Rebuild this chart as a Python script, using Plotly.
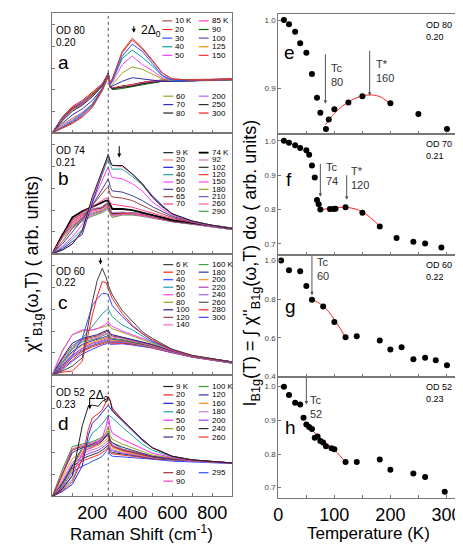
import plotly.graph_objects as go

# ---------------- spectra, left panels (arb. units, 0-100 of panel height) ----------------
W_a = [0, 50, 100, 150, 200, 250, 270, 280, 290, 300, 350, 400, 450, 500, 550, 600, 700, 800, 900]
T_a = [10, 20, 30, 40, 50, 60, 70, 80, 85, 90, 100, 125, 150, 200, 250, 300]
C_a = ["#b04a4a", "#ff2020", "#3050ff", "#00a0a0", "#ff40ff", "#a0a020", "#3030b0", "#202020",
       "#ff40c0", "#007000", "#5050c0", "#ff8c00", "#ff3030", "#b060ff", "#303030", "#ff2020"]
S_a = [
    [0, 3.6, 7.7, 13, 21, 35, 43, 48, 42, 45, 68, 79, 71, 61, 50, 45, 44, 44, 45],
    [0, 4, 8.5, 14, 22, 36, 43, 48, 42, 45, 67, 77.5, 70, 60, 50, 45, 44, 44, 44.5],
    [0, 4.5, 9, 15, 23, 36, 43, 48, 41, 44, 64, 74, 68, 58, 48, 44, 43.5, 44, 44.5],
    [0, 5, 10, 16, 24, 37, 44, 49, 41, 43, 62, 69, 63, 56, 47.5, 44, 43.5, 44, 44.5],
    [0, 6, 11, 17, 24, 37, 44, 49, 40, 42, 57, 64, 57, 52, 46, 44, 43.5, 44, 44.5],
    [0, 7, 12, 17, 23, 35, 43, 48, 39, 40, 50, 55, 53, 49, 45, 43.5, 43.5, 44, 44.5],
    [0, 8, 15, 20, 27, 37, 44, 49, 38, 39, 43, 46, 45, 44, 43, 43, 43.5, 44, 44.5],
    [0, 10, 18, 23, 30, 39, 45, 50, 38, 37, 38, 39, 41, 42, 43, 43, 43.5, 44, 44.5],
    [0, 11, 19, 24, 31, 39, 45, 50, 38, 37, 38, 39.5, 41, 42.5, 43, 43.5, 43.5, 44, 44.5],
    [0, 11, 20, 24, 32, 39, 45, 49, 38, 36, 37, 38.5, 40.5, 42, 43, 43, 43.5, 43.5, 44],
    [0, 12, 20, 25, 32, 40, 45, 49, 38, 36.5, 38, 39, 41, 42.5, 43, 43.5, 43.5, 44, 44.5],
    [0, 12, 20, 25, 33, 40, 45, 49, 38, 37, 38.5, 39.5, 41, 42.5, 43.5, 43.5, 44, 44, 44.5],
    [0, 12, 21, 25, 33, 40, 46, 50, 39, 37, 38.5, 39.5, 41.5, 43, 43.5, 44, 44, 44.5, 45],
    [0, 12, 21, 26, 33, 40, 46, 49, 38, 37, 38.5, 40, 41.5, 43, 43.5, 44, 44, 44.5, 45],
    [0, 13, 21, 26, 33, 40, 46, 49, 38, 37, 39, 40, 42, 43, 44, 44, 44, 44.5, 45],
    [0, 13, 22, 27, 34, 41, 47, 50, 39, 37.5, 39, 40.5, 42, 43.5, 44, 44.5, 44.5, 45, 45],
]

W_b = [0, 50, 100, 150, 200, 250, 270, 280, 290, 300, 350, 400, 450, 500, 550, 600, 700, 800, 900]
T_b = [9, 20, 30, 40, 50, 60, 65, 70, 74, 92, 102, 120, 150, 180, 210, 260, 290]
C_b = ["#202020", "#ff8080", "#2020e0", "#20a0a0", "#ff40ff", "#404090", "#a04040", "#ff4080",
       "#000000", "#c080c0", "#303030", "#ff3030", "#ff40ff", "#a0a020", "#6060c0", "#ff60a0", "#40a040"]
S_b = [
    [0, 3, 8, 19, 47, 69, 78, 82, 76, 73, 73, 66, 58, 47, 39, 33, 27, 23.5, 21],
    [0, 3, 8, 18, 45, 68, 77, 81, 75, 73, 72, 66, 58, 47, 39, 33, 27, 23.5, 21],
    [0, 4, 10, 16, 42, 67, 77, 82, 76, 73, 73, 66, 58, 48, 40, 33, 27, 23.5, 21],
    [0, 5, 12, 20, 44, 66, 75, 78.5, 73, 70, 70, 64, 57, 47, 39, 33, 27, 23.5, 21],
    [0, 6, 14, 24, 42, 60, 68, 72, 66, 63, 62, 58, 52, 43, 37, 32, 26.5, 23, 21],
    [0, 8, 18, 28, 40, 53, 59, 62, 55, 52, 51, 48, 44, 39, 35, 31, 26.5, 23, 21],
    [0, 10, 21, 30, 40, 50, 54, 55, 49, 47, 46, 44, 40, 36, 33, 30, 26, 23, 21],
    [0, 14, 28, 34, 39, 44, 46, 45.5, 42, 41, 40, 38.5, 36, 33.6, 31, 29, 26, 23, 21],
    [0, 15, 30, 35, 38.5, 42, 44, 44, 40, 37, 37, 36, 34, 32, 30, 28, 25.5, 23, 21],
    [0, 15, 27, 33, 37, 39, 42, 43, 37, 34, 34.5, 34, 33, 31, 29.5, 27.5, 25, 23, 21],
    [0, 16, 28, 33, 37, 38, 41, 42, 36, 33, 34, 34, 33, 31, 29, 27, 25, 23, 21],
    [0, 16, 26, 32, 36, 38, 40, 41, 35, 33, 33.5, 33.5, 32.5, 30.5, 29, 27, 25, 22.5, 20.5],
    [0, 16, 25, 31, 35, 37, 40, 41, 35, 32.5, 33, 33, 32, 30, 28.5, 27, 25, 22.5, 20.5],
    [0, 16, 24, 30, 34, 36, 39, 40, 34, 32, 33, 33, 32, 30, 28.5, 27, 24.5, 22.5, 20.5],
    [0, 15, 23, 29, 33, 35.5, 38, 39.5, 34, 32, 33, 33, 32, 30, 28.5, 26.5, 24.5, 22, 20],
    [0, 14, 22, 28, 32, 35, 37, 39, 33, 31, 32.5, 32.5, 31.5, 29.5, 28, 26.5, 24.5, 22, 20],
    [0, 13, 21, 27, 31, 34, 36, 38, 32, 30, 32, 32, 31, 29.5, 28, 26.5, 24.5, 22, 20],
]

W_c = [0, 50, 100, 150, 200, 225, 250, 270, 280, 290, 300, 350, 400, 450, 500, 600, 700, 800, 900]
T_c = [6, 20, 40, 50, 60, 80, 100, 120, 140, 160, 180, 200, 220, 240, 260, 280, 300]
C_c = ["#404040", "#ff2020", "#4040ff", "#20a0a0", "#ff40ff", "#a0a020", "#202090", "#a04040",
       "#ff60c0", "#40a040", "#3030a0", "#ff9020", "#b040b0", "#a060ff", "#505050", "#ff2020", "#4040ff"]
S_c = [
    [0, 3, 7, 14, 60, 78, 88, 80, 74, 70, 66, 53, 44, 35.5, 30, 21, 16, 13.5, 10.5],
    [0, 2, 3, 11, 49, 65, 77, 76, 71, 67, 63, 50.5, 41, 34, 28.7, 20.5, 15.5, 13, 10.5],
    [0, 7, 16, 30, 57, 63, 67, 67, 66, 62, 57, 48, 40, 34, 28, 20.5, 15.5, 13, 10.5],
    [0, 10, 22, 30, 40, 45, 50.5, 53, 54.6, 51, 48, 41, 37, 32, 27, 20.5, 15.5, 13, 10.5],
    [0, 19, 33, 37, 37, 38, 40, 42, 44, 41, 40, 36, 33, 30, 27, 20, 15.5, 13, 10.5],
    [0, 20, 33, 36, 37, 38, 39, 40, 42, 39, 38, 35, 32, 29, 26, 20, 15.5, 13, 10.5],
    [0, 14, 26, 30, 32, 33, 35, 36, 37, 34, 33, 31, 29, 27, 25, 19.5, 15.5, 13, 10.5],
    [0, 13, 24, 29, 31, 32, 34, 35, 36, 33, 32, 30.5, 28.5, 26.5, 24.5, 19.5, 15, 12.5, 10],
    [0, 12, 22, 28, 30, 31, 33, 34, 35.5, 32, 31, 30, 28, 26, 24, 19, 15, 12.5, 10],
    [0, 11, 21, 27, 29, 30, 32, 33, 34, 31, 30, 29, 27.5, 26, 24, 19, 15, 12.5, 10],
    [0, 10, 19, 25, 28, 29, 30.5, 31.5, 33, 30, 29, 28.5, 27, 25.5, 23.5, 19, 15, 12.5, 10],
    [0, 9, 18, 24, 27, 28, 29.5, 30.5, 32, 29, 28, 28, 26.5, 25, 23, 19, 15, 12.5, 10],
    [0, 8, 16, 22, 26, 27, 28.5, 29.5, 31, 28, 27.5, 27.5, 26, 25, 23, 18.5, 15, 12.5, 10],
    [0, 7, 15, 21, 25, 26, 27.5, 28.5, 30, 27, 27, 27, 26, 24.5, 22.5, 18.5, 14.5, 12, 9.5],
    [0, 6, 14, 20, 24, 25, 26.5, 27.5, 29, 26.5, 26.5, 26.5, 25.5, 24, 22.5, 18.5, 14.5, 12, 9.5],
    [0, 5, 12, 19, 23, 24, 25.5, 26.5, 28, 26, 26, 26, 25, 24, 22, 18, 14.5, 12, 9.5],
    [0, 4, 11, 17, 21, 23, 24.5, 25.5, 26.5, 25, 25, 25.5, 24.5, 23.5, 22, 18, 14.5, 12, 9.5],
]

W_d = [0, 50, 100, 150, 180, 200, 230, 250, 270, 280, 290, 300, 350, 400, 450, 500, 600, 700, 800, 900]
T_d = [9, 20, 30, 40, 50, 60, 70, 80, 90, 100, 120, 160, 180, 200, 240, 260, 295]
C_d = ["#202020", "#ff2020", "#2020e0", "#20a0a0", "#ff20ff", "#a0a020", "#303090", "#a03030",
       "#ff40c0", "#30a030", "#3030c0", "#ff9020", "#c080c0", "#9040ff", "#303030", "#ff3030", "#3050ff"]
S_d = [
    [0, 6, 17, 58, 74, 75, 74, 78, 80, 81.5, 78, 71, 63, 55, 47, 40, 33, 30, 28.5, 27.5],
    [0, 5, 12, 30.6, 55, 64.5, 68, 71, 78, 82, 79, 72.6, 63, 55, 47, 40, 33, 30, 28.5, 27.5],
    [0, 4, 10, 25, 50, 60, 65, 68.6, 73, 75, 72, 70, 62, 53.7, 46, 40, 33, 30, 28.5, 27.5],
    [0, 6, 14, 30.6, 45, 52, 56, 60, 64, 67, 66, 64.5, 57, 49.6, 43, 38, 32.5, 30, 28.5, 27.5],
    [0, 7, 17, 36, 39, 40, 44, 48, 58, 66, 56, 52, 47, 43, 39, 35.5, 32, 29.5, 28.5, 27.5],
    [0, 9, 22.5, 38.8, 40, 41, 44, 47, 53, 57.7, 50, 47, 43, 40, 37, 34, 31.5, 29.5, 28.5, 27.5],
    [0, 10, 25, 40, 41, 41.5, 43, 45.5, 50, 52, 46, 44, 40.5, 38, 35, 33, 31, 29.5, 28.5, 27.5],
    [0, 18, 38, 41, 42, 42.5, 44, 46, 49, 50, 44, 41, 38, 36, 34, 32.5, 30.5, 29.5, 28.5, 27.5],
    [0, 20, 39, 42, 43, 44, 46, 47.5, 51, 52, 45, 42, 38.5, 36.5, 34.5, 33, 31, 29.5, 28.5, 27.5],
    [0, 22, 41, 43, 44, 45, 47, 49, 52, 53.7, 46, 44, 39, 37, 35, 33, 31, 29.5, 28.5, 27.5],
    [0, 18, 36, 40, 42, 43, 45, 47, 50, 51, 44, 42, 38, 36, 34.5, 32.5, 30.5, 29.5, 28.5, 27.5],
    [0, 15, 31, 37, 39, 40, 42, 44, 47, 48, 42, 40, 37, 35.5, 34, 32, 30.5, 29.5, 28.5, 27.5],
    [0, 13, 28, 35, 37, 38, 40, 42, 45, 46, 40, 38.5, 36, 35, 33.5, 32, 30.5, 29, 28, 27.5],
    [0, 12, 26, 33, 35, 36, 38, 40, 43, 44, 39, 37.5, 35.5, 34.5, 33, 31.5, 30, 29, 28, 27.5],
    [0, 11, 24, 31, 33, 34, 36, 38, 41, 42, 37.5, 36, 35, 34, 32.5, 31, 30, 29, 28, 27.5],
    [0, 10, 22, 29, 31, 32, 34, 36, 39, 40, 36, 35, 34, 33, 32, 31, 30, 29, 28, 27.5],
    [0, 8, 20, 25, 27, 29, 31, 33, 37, 40, 34, 33, 32.5, 32, 31, 30.6, 29, 28.5, 28, 27],
]

# ---------------- integrated intensities, right panels ----------------
Te = [10, 19, 30, 39, 50, 60, 69, 75, 85, 90, 100, 125, 150, 200, 250, 301]
Ie = [1.0, 0.994, 0.983, 0.966, 0.952, 0.921, 0.886, 0.864, 0.840, 0.854, 0.869, 0.879, 0.888, 0.878, 0.862, 0.840]
Te_fit = [84, 100, 120, 140, 160, 180, 200]
Ie_fit = [0.846, 0.863, 0.877, 0.886, 0.890, 0.888, 0.877]

Tf = [10, 19, 30, 39, 50, 55, 60, 65, 69, 72, 75, 92, 98, 102, 120, 150, 181, 211, 241, 262, 291]
If = [1.0, 0.994, 0.987, 0.979, 0.972, 0.959, 0.928, 0.893, 0.827, 0.815, 0.800, 0.801, 0.801, 0.802,
      0.806, 0.790, 0.750, 0.717, 0.706, 0.701, 0.689]
Tf_fit = [75, 90, 110, 130, 150, 165, 180]
If_fit = [0.798, 0.803, 0.806, 0.804, 0.793, 0.775, 0.753]

Tg = [5, 19, 39, 50, 60, 80, 100, 120, 140, 181, 200, 220, 241, 262, 281, 301]
Ig = [1.0, 0.950, 0.945, 0.868, 0.797, 0.762, 0.682, 0.603, 0.608, 0.586, 0.540, 0.552, 0.489, 0.497, 0.484, 0.458]
Tg_fit = [60, 70, 80, 90, 100, 110, 120]
Ig_fit = [0.797, 0.785, 0.765, 0.735, 0.695, 0.650, 0.603]

Th = [10, 19, 30, 39, 45, 50, 55, 60, 65, 70, 75, 80, 85, 95, 100, 120, 140, 181, 200, 241, 262, 297]
Ih = [1.0, 0.975, 0.952, 0.947, 0.908, 0.888, 0.880, 0.874, 0.848, 0.852, 0.839, 0.834, 0.823, 0.817,
      0.814, 0.776, 0.776, 0.784, 0.753, 0.742, 0.732, 0.688]
Th_fit = [50, 60, 70, 80, 90, 100, 110, 120]
Ih_fit = [0.888, 0.871, 0.855, 0.840, 0.826, 0.812, 0.795, 0.776]

FONT = "Arial, Liberation Sans, sans-serif"
FW, FH = 463, 545
AX = "#777777"


def px(x):
    return x / FW


def py(y):
    return 1 - y / FH


fig = go.Figure()
layout = dict(width=FW, height=FH, margin=dict(l=0, r=0, t=0, b=0), showlegend=False,
              paper_bgcolor="white", plot_bgcolor="white", font=dict(family=FONT, color="black"))

left_rows = [(5, 126), (126, 248), (248, 370), (370, 493)]
right_rows = [(6, 127), (127, 249), (249, 372), (372, 495)]

for i in range(1, 9):
    left = i <= 4
    top, bot = (left_rows if left else right_rows)[(i - 1) % 4]
    xa = dict(domain=[px(40), px(223)] if left else [px(270), px(453)], anchor=f"y{i}",
              showgrid=False, zeroline=False, showline=True, linecolor=AX, linewidth=1, mirror=True,
              ticks="inside", ticklen=3, tickcolor=AX, tickfont=dict(size=18, family=FONT))
    ya = dict(domain=[py(bot), py(top)], anchor=f"x{i}", showgrid=False, zeroline=False,
              showline=True, linecolor=AX, linewidth=1, mirror=True, ticks="inside", ticklen=3,
              tickcolor=AX)
    if left:
        xa.update(range=[0, 900], tickvals=[100, 200, 300, 400, 500, 600, 700, 800],
                  ticktext=["", "200", "", "400", "", "600", "", "800"], showticklabels=(i == 4))
        ya.update(range=[0, 100], tickvals=[18, 36, 54, 72, 90], showticklabels=False)
    else:
        xa.update(range=[0, 321], tickvals=[0, 50, 100, 150, 200, 250, 300],
                  ticktext=["0", "", "100", "", "200", "", "300"], showticklabels=(i == 8))
        ya.update(tickformat=".1f", tickfont=dict(size=8, color="#444444", family=FONT))
    layout["xaxis" if i == 1 else f"xaxis{i}"] = xa
    layout["yaxis" if i == 1 else f"yaxis{i}"] = ya

layout["yaxis5"].update(range=[0.833, 1.009], tickvals=[0.9, 1.0])
layout["yaxis6"].update(range=[0.668, 1.02], tickvals=[0.7, 0.8, 0.9, 1.0])
layout["yaxis7"].update(range=[0.4, 1.03], tickvals=[0.4, 0.6, 0.8, 1.0])
layout["yaxis8"].update(range=[0.668, 1.03], tickvals=[0.7, 0.8, 0.9, 1.0])


def ax(i):
    return "" if i == 1 else str(i)


# spectra
panels = [(W_a, T_a, C_a, S_a), (W_b, T_b, C_b, S_b), (W_c, T_c, C_c, S_c), (W_d, T_d, C_d, S_d)]
for i, (w, temps, cols, spec) in enumerate(panels, start=1):
    for t, c, s in reversed(list(zip(temps, cols, spec))):
        lw = 1.8 if (i == 2 and t == 74) else 1
        fig.add_trace(go.Scatter(x=w, y=s, mode="lines", line=dict(color=c, width=lw),
                                 name=f"{t} K", xaxis=f"x{ax(i)}", yaxis=f"y{ax(i)}"))

# intensities + fits
right = [(Te, Ie, Te_fit, Ie_fit), (Tf, If, Tf_fit, If_fit), (Tg, Ig, Tg_fit, Ig_fit), (Th, Ih, Th_fit, Ih_fit)]
for k, (t, v, tf, vf) in enumerate(right, start=5):
    fig.add_trace(go.Scatter(x=tf, y=vf, mode="lines", line=dict(color="#ff2020", width=1, shape="spline"),
                             xaxis=f"x{k}", yaxis=f"y{k}"))
    fig.add_trace(go.Scatter(x=t, y=v, mode="markers", marker=dict(color="black", size=6),
                             xaxis=f"x{k}", yaxis=f"y{k}"))

shapes = []
ann = []

# dotted line at the phonon position
for i in range(1, 5):
    shapes.append(dict(type="line", xref=f"x{ax(i)}", yref=f"y{ax(i)} domain", x0=280, x1=280, y0=0, y1=1,
                       line=dict(color="#555555", width=1, dash="dot")))

# panel texts, left
od_left = [("OD 80", "0.20", "a"), ("OD 74", "0.21", "b"), ("OD 60", "0.22", "c"), ("OD 52", "0.23", "d")]
for i, (od, p, letter) in enumerate(od_left, start=1):
    xr, yr = f"x{ax(i)} domain", f"y{ax(i)} domain"
    ann.append(dict(text=od, x=0.01, y=0.915, xref=xr, yref=yr, xanchor="left", showarrow=False,
                    font=dict(size=10)))
    ann.append(dict(text=p, x=0.01, y=0.82, xref=xr, yref=yr, xanchor="left", showarrow=False,
                    font=dict(size=10)))
    ann.append(dict(text=letter, x=0.06, y=[0.69, 0.62, 0.6, 0.6][i - 1], xref=xr, yref=yr,
                    xanchor="center", showarrow=False, font=dict(size=19)))

# gap arrows
arrow = dict(showarrow=True, arrowhead=2, arrowsize=0.8, arrowwidth=1, arrowcolor="black", text="", ax=0)
ann.append(dict(arrow, x=408, y=83.5, xref="x", yref="y", ay=-8))
ann.append(dict(text="2Δ<sub>0</sub>", x=0.55, y=0.93, xref="x domain", yref="y domain", showarrow=False,
                xanchor="center", font=dict(size=12)))
ann.append(dict(arrow, x=335, y=79.5, xref="x2", yref="y2", ay=-13))
ann.append(dict(arrow, x=241, y=91, xref="x3", yref="y3", ay=-8))
ann.append(dict(arrow, x=187, y=71.5, xref="x4", yref="y4", ay=-13))
ann.append(dict(text="2Δ<sub>0</sub>", x=0.26, y=0.91, xref="x4 domain", yref="y4 domain", showarrow=False,
                xanchor="center", font=dict(size=12)))


# legends drawn next to the curves
def legend(temps, cols, columns, x_lines, y0, dy, first_k):
    cmap = dict(zip(temps, cols))
    for col, xl in zip(columns, x_lines):
        for r, t in enumerate(col):
            y = y0 + r * dy
            lw = 1.8 if t == 74 else 1.2
            shapes.append(dict(type="line", xref="paper", yref="paper", x0=px(xl), x1=px(xl + 10),
                               y0=py(y), y1=py(y), line=dict(color=cmap[t], width=lw)))
            label = f"{t} K" if (first_k and r == 0) else str(t)
            ann.append(dict(text=label, x=px(xl + 11), y=py(y), xref="paper", yref="paper",
                            xanchor="left", yanchor="middle", showarrow=False, font=dict(size=8)))


legend(T_a, C_a, [[10, 20, 30, 40, 50], [85, 90, 100, 125, 150]], [152, 189], 13, 8.7, True)
legend(T_a, C_a, [[60, 70, 80], [200, 250, 300]], [153, 189], 89, 8.5, False)
legend(T_b, C_b, [[9, 20, 30, 40, 50, 60, 65, 70], [74, 92, 102, 120, 150, 180, 210, 260, 290]],
       [153, 189], 146, 7.4, True)
legend(T_c, C_c, [[6, 20, 40, 50, 60, 80, 100, 120, 140], [160, 180, 200, 220, 240, 260, 280, 300]],
       [153, 189], 259, 7.6, True)
legend(T_d, C_d, [[9, 20, 30, 40, 50, 60, 70], [100, 120, 160, 180, 200, 240, 260]], [153, 189], 382, 8.5, True)
legend(T_d, C_d, [[80, 90], [295]], [153, 189], 469, 8.5, False)

# right panel texts
od_right = [("OD 80", "0.20", "e", 20, 0.952), ("OD 70", "0.21", "f", 19, 0.888),
            ("OD 60", "0.22", "g", 21, 0.762), ("OD 52", "0.23", "h", 21, 0.878)]
for k, (od, p, letter, lx, ly) in enumerate(od_right, start=5):
    ann.append(dict(text=od + "<br>" + p, x=0.81, y=0.97, xref=f"x{k} domain", yref=f"y{k} domain",
                    xanchor="left", yanchor="top", align="left", showarrow=False, font=dict(size=9)))
    ann.append(dict(text=letter, x=lx, y=ly, xref=f"x{k}", yref=f"y{k}", xanchor="center",
                    showarrow=False, font=dict(size=19)))

tarrow = dict(showarrow=True, arrowhead=2, arrowsize=0.7, arrowwidth=1, arrowcolor="#555555", text="")
marks = [(5, 84, 0.952, 0.877, "Tc<br>80", 90, 0.92), (5, 163, 0.957, 0.889, "T*<br>160", 170, 0.925),
         (6, 75, 0.937, 0.837, "Tc<br>74", 82, 0.903), (6, 122, 0.904, 0.828, "T*<br>120", 127, 0.89),
         (7, 60, 1.03, 0.82, "Tc<br>60", 66, 0.955), (8, 50, 1.03, 0.947, "Tc<br>52", 53, 0.94)]
for k, x, y_top, y_tip, txt, tx, ty in marks:
    ann.append(dict(tarrow, x=x, y=y_tip, ax=x, ay=y_top, xref=f"x{k}", yref=f"y{k}",
                    axref=f"x{k}", ayref=f"y{k}"))
    ann.append(dict(text=txt, x=tx, y=ty, xref=f"x{k}", yref=f"y{k}", xanchor="left", align="left",
                    showarrow=False, font=dict(size=11, color="#333333")))

# axis titles
ann.append(dict(text="Raman Shift (cm<sup>-1</sup>)", x=px(131), y=py(530), xref="paper", yref="paper",
                xanchor="center", yanchor="middle", showarrow=False, font=dict(size=17)))
ann.append(dict(text="Temperature (K)", x=px(362), y=py(530), xref="paper", yref="paper",
                xanchor="center", yanchor="middle", showarrow=False, font=dict(size=17)))
ann.append(dict(text="χ''<sub>B1g</sub>(ω,T) ( arb. units)", x=px(21), y=py(258), xref="paper", yref="paper",
                xanchor="center", yanchor="middle", textangle=-90, showarrow=False, font=dict(size=18)))
ann.append(dict(text="I<sub>B1g</sub>(T) = ∫ χ''<sub>B1g</sub>(ω,T) dω ( arb. units)", x=px(243), y=py(257),
                xref="paper", yref="paper", xanchor="center", yanchor="middle", textangle=-90,
                showarrow=False, font=dict(size=18)))

layout["shapes"] = shapes
layout["annotations"] = ann
fig.update_layout(**layout)
fig.write_html("out.html")
